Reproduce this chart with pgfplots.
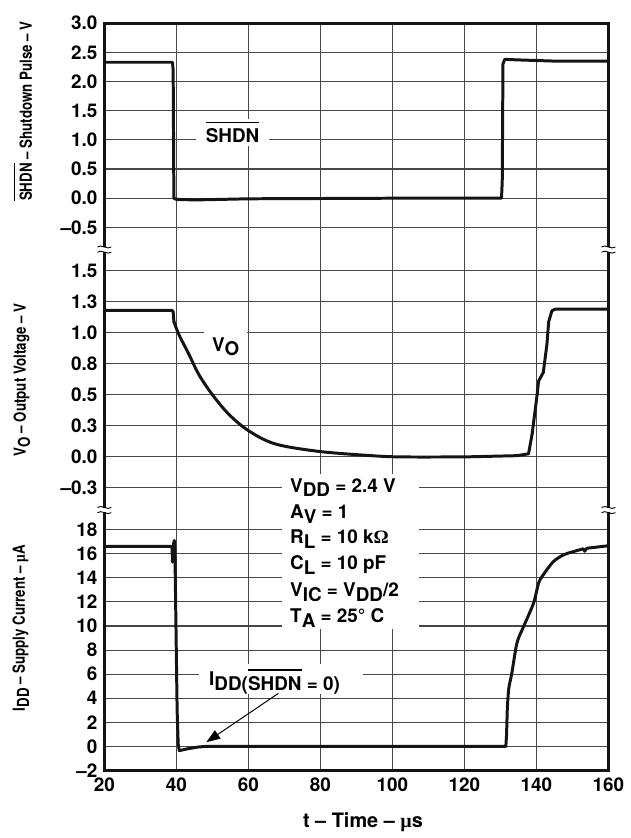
\documentclass[border=0pt]{standalone}
\usepackage{fontspec}
\setmainfont{TeX Gyre Heros}
\newfontfamily\symfont{Liberation Serif}
\usepackage{pgfplots}
\pgfplotsset{compat=1.18}
\usetikzlibrary{arrows.meta}
\newcommand\ovl[1]{\leavevmode\vbox{\hrule height 0.9pt\kern2.6pt\hbox{#1}}}
\newcommand\ovls[1]{\leavevmode\vbox{\hrule height 0.7pt\kern1.6pt\hbox{#1}}}
\newcommand\sub[1]{\raisebox{-2.4pt}{#1}}
\newcommand\subs[1]{\raisebox{-1.7pt}{#1}}
\newcommand\ann{\bfseries\fontsize{9.5}{10}\selectfont}
\newcommand\lab{\bfseries\fontsize{6.7}{7}\selectfont}
\tikzset{ylab/.style={rotate=90, yscale=1.25, font=\lab}}
\pgfplotsset{
  common/.style={
    width=253.5pt, scale only axis,
    xmin=20, xmax=160, xtick={20,40,...,160},
    grid=major, major grid style={black!72, line width=0.55pt},
    axis line style={draw=none}, major tick length=0pt,
    tick label style={font=\bfseries\fontsize{9.5}{10}\selectfont},
    clip=false,
  },
  curve/.style={black!92, line width=1.5pt, line join=round, line cap=round},
}
\begin{document}
\begin{tikzpicture}
% ---------------- top: SHDN ----------------
\begin{axis}[common, name=top, height=113.85pt, ymin=-0.88, ymax=3.0,
  ytick={-0.5,0,0.5,1,1.5,2,2.5,3},
  yticklabels={–0.5,0.0,0.5,1.0,1.5,2.0,2.5,3.0},
  xticklabels={}]
\addplot[curve] coordinates {
(20,2.33) (38.9,2.33) (39.1,2.2) (39.3,0.0) (40,-0.02) (45,-0.03)
(60,-0.01) (100,0) (130.3,0) (130.5,0.3) (130.7,2.3) (131.2,2.38)
(135,2.37) (145,2.35) (160,2.35)};
\node[anchor=base, fill=white, inner xsep=5pt, inner ysep=1.5pt, font=\ann]
  at (axis cs:55.6,0.952) {\ovl{SHDN}};
\node[ylab] at (axis description cs:-0.1617,0.612)
  {\ovls{SHDN} – Shutdown Pulse – V};
\end{axis}
% ---------------- middle: VO ----------------
\begin{axis}[common, name=mid, at={(top.south west)}, anchor=north west,
  height=131pt, ymin=-0.428, ymax=1.67,
  ytick={-0.25,0,0.25,0.5,0.75,1,1.25,1.5},
  yticklabels={–0.3,0.0,0.3,0.5,0.8,1.0,1.3,1.5},
  xticklabels={}]
\addplot[curve] coordinates {
(20,1.18) (38.8,1.18) (39.1,1.17) (39.3,1.09)};
\addplot[curve, smooth, tension=0.55] coordinates {
(39.3,1.09) (40.7,0.985) (43.5,0.825)
(46.2,0.665) (49.9,0.505) (54.5,0.345) (60,0.212) (67.4,0.105)
(79.4,0.045) (93.2,0.012) (102.3,0.0) (120,0.0)};
\addplot[curve] coordinates {
(120,0.0) (134.6,0.01)
(137.8,0.025) (138.8,0.185) (140.2,0.505) (140.6,0.612) (141.9,0.68)
(142.9,0.905) (143.4,1.09) (144.3,1.177) (145.2,1.19) (160,1.19)};
\node[anchor=base west, fill=white, inner xsep=4pt, inner ysep=3pt, font=\ann]
  at (axis cs:47.6,0.852) {V\sub{O}};
\node[ylab] at (axis description cs:-0.1637,0.5)
  {V\subs{O} – Output Voltage – V};
\end{axis}
% ---------------- bottom: IDD ----------------
\begin{axis}[common, name=bot, at={(mid.south west)}, anchor=north west,
  height=131pt, ymin=-2, ymax=19.62,
  xticklabels={20,40,60,80,100,120,140,160},
  ytick={-2,0,2,...,18},
  yticklabels={–2,0,2,4,6,8,10,12,14,16,18}]
\addplot[curve] coordinates {
(20,16.6) (38.5,16.6) (38.8,16.5) (38.9,15.3) (39.2,16.8) (39.4,17.1)
(39.6,16) (40.2,3) (40.5,0.2) (40.8,-0.35) (43,-0.2) (46,-0.05)
(48,0) (100,0) (131.5,0) (131.7,1) (131.9,3.1)};
\addplot[curve, smooth, tension=0.5] coordinates {
(131.9,3.1) (132.3,4.78)
(133.2,6.15) (134.6,8.6) (136.5,10.0) (139.2,11.9) (140.6,13.56)
(141.9,14.25) (144.7,15.34) (147.5,15.9) (150,16.15) (153,16.4)};
\addplot[curve] coordinates {
(153,16.4) (153.4,16.2) (154,16.45) (160,16.66)};
% conditions block
\fill[white] (axis cs:69.2,22.58) rectangle (axis cs:107.5,9.74);
\node[anchor=base west, inner sep=0pt, font=\ann] at (axis cs:71.5,21.10) {V\sub{DD} = 2.4 V};
\node[anchor=base west, inner sep=0pt, font=\ann] at (axis cs:71.5,18.91) {A\sub{V} = 1};
\node[anchor=base west, inner sep=0pt, font=\ann] at (axis cs:71.5,16.85) {R\sub{L} = 10 k{\symfont Ω}};
\node[anchor=base west, inner sep=0pt, font=\ann] at (axis cs:71.5,14.66) {C\sub{L} = 10 pF};
\node[anchor=base west, inner sep=0pt, font=\ann] at (axis cs:71.5,12.46) {V\sub{IC} = V\sub{DD}/2};
\node[anchor=base west, inner sep=0pt, font=\ann] at (axis cs:71.5,10.26) {T\sub{A} = 25° C};
% IDD label
\fill[white] (axis cs:46.2,6.85) rectangle (axis cs:91.8,4.39);
\node[anchor=base west, inner sep=0pt, font=\ann] at (axis cs:49.0,5.05)
  {I\sub{DD(\ovl{SHDN} = 0)}};
\draw[line width=0.5pt, -{Triangle[length=7pt,width=5pt]}]
  (axis cs:68.3,4.4) -- (axis cs:48.3,0.35);
\node[ylab] at (axis description cs:-0.1657,0.547)
  {I\subs{DD} – Supply Current – {\symfont µ}A};
\node[font=\bfseries\fontsize{10}{12}\selectfont] at (axis description cs:0.513,-0.197)
  {t – Time – {\symfont µ}s};
\end{axis}
% frame
\draw[line width=1.5pt, black!92] (bot.south west) rectangle (top.north east);
% break marks
\foreach \p in {top.south west, top.south east, mid.south west, mid.south east}{
  \begin{scope}[shift={(\p)}]
    \fill[white] (-1pt,-1.2pt) rectangle (1pt,1.2pt);
    \draw[line width=0.45pt] (-3.5pt,1.3pt) .. controls (-1.5pt,3pt) and (1.5pt,-0.4pt) .. (3.5pt,1.3pt);
    \draw[line width=0.45pt] (-3.5pt,-1.3pt) .. controls (-1.5pt,0.4pt) and (1.5pt,-3pt) .. (3.5pt,-1.3pt);
  \end{scope}
}
\path ([shift={(-52.5pt,-31.5pt)}]bot.south west) rectangle ([shift={(9.5pt,11.65pt)}]top.north east);
\end{tikzpicture}
\end{document}
